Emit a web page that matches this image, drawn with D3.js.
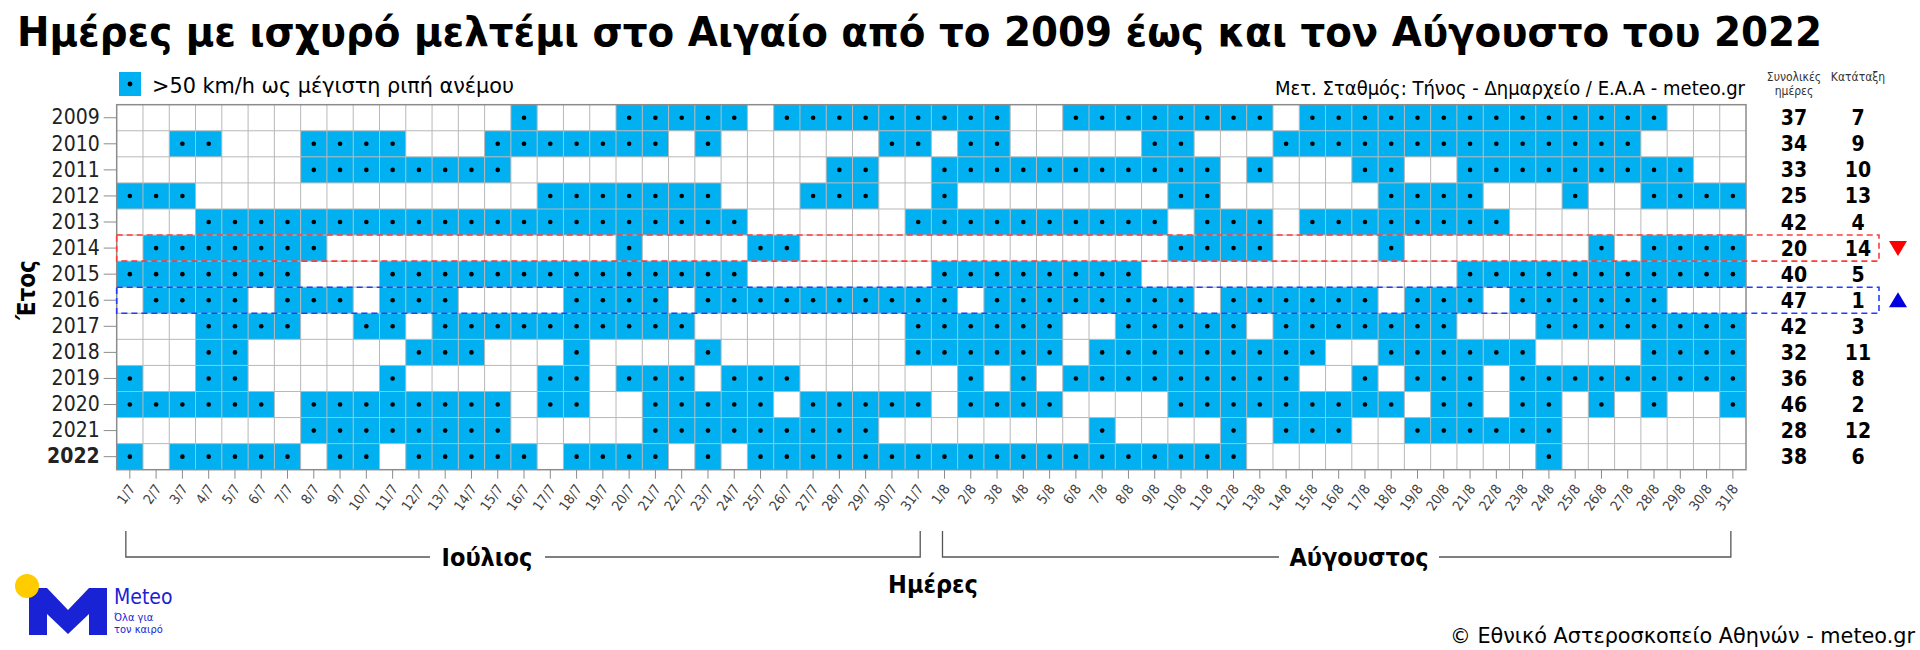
<!DOCTYPE html>
<html><head><meta charset="utf-8">
<script src="https://cdn.jsdelivr.net/npm/d3@7"></script>
<style>
body{margin:0;background:#fff}
svg{display:block}
text{font-family:"DejaVu Sans Condensed","DejaVu Sans",sans-serif}
</style>
</head><body>
<svg id="c" width="1920" height="650"></svg>
<script>
// ---------------- DATA ----------------
const years = [2009,2010,2011,2012,2013,2014,2015,2016,2017,2018,2019,2020,2021,2022];
const julyLabels = ["1/7","2/7","3/7","4/7","5/7","6/7","7/7","8/7","9/7","10/7","11/7","12/7","13/7","14/7","15/7","16/7","17/7","18/7","19/7","20/7","21/7","22/7","23/7","24/7","25/7","26/7","27/7","28/7","29/7","30/7","31/7"];
const augustLabels = ["1/8","2/8","3/8","4/8","5/8","6/8","7/8","8/8","9/8","10/8","11/8","12/8","13/8","14/8","15/8","16/8","17/8","18/8","19/8","20/8","21/8","22/8","23/8","24/8","25/8","26/8","27/8","28/8","29/8","30/8","31/8"];
// 1 = day with gust > 50 km/h (July 1..31 | August 1..31)
const meltemiDays = [
  "0000000000000001000111110111111|1110011111111011111111111111000", // 2009
  "0011000111100011111110100000011|0110000011000111111111111110000", // 2010
  "0000000111111110000000000001100|1111111111101000110011111111100", // 2011
  "1110000000000000111111100011100|1000000001100000011110001001111", // 2012
  "0001111111111111111111110000001|1111111110111011111111000000000", // 2013
  "0111111100000000000100001100000|0000000001111000010000000101111", // 2014
  "1111111000111111111111110000000|1111111100000000000011111111111", // 2015
  "0111101110111000011110111111111|1011111111011111101110111111000", // 2016
  "0001111001101111111111000000001|1111100111110111111100011111111", // 2017
  "0001100000011100010000100000001|1111101111111110011111100001111", // 2018
  "1001100000100000110111011100000|0101011111111100101110111111111", // 2019
  "1111110111111110110011111011111|0111100001111111110110110101001", // 2020
  "0000000111111110000011111111100|0000001000010111001111110000000", // 2021
  "1011111011011111011110101111111|1111111111110000000000010000000"  // 2022
];
const totals = [37,34,33,25,42,20,40,47,42,32,36,46,28,38];
const ranks  = [7,9,10,13,4,14,5,1,3,11,8,2,12,6];

// ---------------- LAYOUT ----------------
const svg = d3.select("#c");
const gridLeft = 116.7, gridRight = 1746, gridTop = 104.7, gridBottom = 469.7;
const BLUE = "#00b0f0";
const dayLabels = julyLabels.concat(augustLabels);

const x = d3.scaleBand().domain(dayLabels).range([gridLeft, gridRight]).padding(0);
const y = d3.scaleBand().domain(years).range([gridTop, gridBottom]).padding(0);
const bw = x.bandwidth(), bh = y.bandwidth();

const cells = [];
years.forEach((yr, i) => {
  const s = meltemiDays[i].replace("|", "");
  dayLabels.forEach((d, j) => { if (s[j] === "1") cells.push({yr, d}); });
});

// Title
svg.append("text").attr("x", 17).attr("y", 46)
  .attr("font-size", 41).attr("font-weight", "bold").attr("fill", "#000")
  .attr("textLength", 1805).attr("lengthAdjust", "spacingAndGlyphs")
  .text("Ημέρες με ισχυρό μελτέμι στο Αιγαίο από το 2009 έως και τον Αύγουστο του 2022");

// Legend
svg.append("rect").attr("x", 119).attr("y", 72).attr("width", 22).attr("height", 24).attr("fill", BLUE);
svg.append("circle").attr("cx", 130).attr("cy", 84).attr("r", 2.4).attr("fill", "#000");
svg.append("text").attr("x", 152).attr("y", 93).attr("font-size", 21).attr("fill", "#000")
  .attr("textLength", 362).attr("lengthAdjust", "spacingAndGlyphs")
  .text(">50 km/h ως μέγιστη ριπή ανέμου");

// Station
svg.append("text").attr("x", 1745).attr("y", 95).attr("font-size", 19).attr("fill", "#000")
  .attr("text-anchor", "end").attr("textLength", 470).attr("lengthAdjust", "spacingAndGlyphs")
  .text("Μετ. Σταθμός: Τήνος - Δημαρχείο / Ε.Α.Α - meteo.gr");

// Right headers
const colTot = 1794, colRank = 1858;
svg.append("text").attr("x", colTot).attr("y", 81).attr("font-size", 12).attr("text-anchor", "middle").attr("fill", "#333").text("Συνολικές");
svg.append("text").attr("x", colTot).attr("y", 95).attr("font-size", 12).attr("text-anchor", "middle").attr("fill", "#333").text("ημέρες");
svg.append("text").attr("x", colRank).attr("y", 81).attr("font-size", 12).attr("text-anchor", "middle").attr("fill", "#333").text("Κατάταξη");

// Cells
svg.append("g").selectAll("rect").data(cells).join("rect")
  .attr("x", c => x(c.d)).attr("y", c => y(c.yr))
  .attr("width", bw).attr("height", bh).attr("fill", BLUE);

// Grid lines
const grid = svg.append("g").attr("stroke", "#b8b8b8").attr("stroke-width", 1);
dayLabels.slice(1).forEach(d => grid.append("line").attr("x1", x(d)).attr("x2", x(d)).attr("y1", gridTop).attr("y2", gridBottom));
years.slice(1).forEach(yr => grid.append("line").attr("x1", gridLeft).attr("x2", gridRight).attr("y1", y(yr)).attr("y2", y(yr)));

// Dots
svg.append("g").selectAll("circle").data(cells).join("circle")
  .attr("cx", c => x(c.d) + bw / 2).attr("cy", c => y(c.yr) + bh / 2)
  .attr("r", 2.3).attr("fill", "#000");

// Border
svg.append("rect").attr("x", gridLeft).attr("y", gridTop).attr("width", gridRight - gridLeft).attr("height", gridBottom - gridTop)
  .attr("fill", "none").attr("stroke", "#8c8c8c").attr("stroke-width", 1.5);

// Axes
const gx = svg.append("g").attr("transform", `translate(0,${gridBottom})`)
  .call(d3.axisBottom(x).tickSize(9).tickSizeOuter(0));
gx.select(".domain").remove();
gx.selectAll(".tick line").attr("stroke", "#8c8c8c");
gx.selectAll(".tick text").attr("x", 0).attr("y", 0).attr("dy", 0)
  .attr("font-size", 14).attr("fill", "#404040").attr("text-anchor", "end")
  .attr("font-family", "'DejaVu Sans Condensed','DejaVu Sans',sans-serif")
  .attr("transform", "translate(6,19) rotate(-55)");

const gy = svg.append("g").attr("transform", `translate(${gridLeft},0)`)
  .call(d3.axisLeft(y).tickSize(13).tickSizeOuter(0).tickFormat(d3.format("d")));
gy.select(".domain").remove();
gy.selectAll(".tick line").attr("stroke", "#8c8c8c");
gy.selectAll(".tick text").attr("x", -17).attr("font-size", 21).attr("fill", "#222")
  .attr("font-family", "'DejaVu Sans Condensed','DejaVu Sans',sans-serif")
  .attr("font-weight", d => d === 2022 ? "bold" : "normal");

// Totals and ranks
years.forEach((yr, i) => {
  const cy = y(yr) + bh / 2 + 7.5;
  svg.append("text").attr("x", colTot).attr("y", cy).attr("font-size", 21).attr("font-weight", "bold")
    .attr("text-anchor", "middle").attr("fill", "#000").text(totals[i]);
  svg.append("text").attr("x", colRank).attr("y", cy).attr("font-size", 21).attr("font-weight", "bold")
    .attr("text-anchor", "middle").attr("fill", "#000").text(ranks[i]);
});

// Highlight rows
const hi = [{yr: 2014, color: "#ff3b3b", down: true}, {yr: 2016, color: "#1f3cff", down: false}];
hi.forEach(h => {
  svg.append("rect").attr("x", gridLeft).attr("y", y(h.yr)).attr("width", 1879 - gridLeft).attr("height", bh)
    .attr("fill", "none").attr("stroke", h.color).attr("stroke-width", 1.6).attr("stroke-dasharray", "6,4");
  const cx = 1898, cy = y(h.yr) + bh / 2;
  const pts = h.down ? [[cx - 9, cy - 7], [cx + 9, cy - 7], [cx, cy + 8]] : [[cx - 9, cy + 7], [cx + 9, cy + 7], [cx, cy - 8]];
  svg.append("path").attr("d", "M" + pts.join("L") + "Z").attr("fill", h.down ? "#ff0000" : "#0000e0");
});

// Month brackets
const br = svg.append("g").attr("stroke", "#555").attr("stroke-width", 1.3).attr("fill", "none");
const yTop = 531, yLine = 557;
function bracket(x1, x2, tx1, tx2) {
  br.append("path").attr("d", `M${x1},${yTop}V${yLine}H${tx1}M${tx2},${yLine}H${x2}V${yTop}`);
}
const jx1 = x("1/7") + bw / 2 - 4, jx2 = x("31/7") + bw / 2 + 2;
const ax1 = x("1/8") + bw / 2 - 2, ax2 = x("31/8") + bw / 2 - 2;
bracket(jx1, jx2, 430, 545);
bracket(ax1, ax2, 1279, 1439);
svg.append("text").attr("x", 487).attr("y", 566).attr("font-size", 25).attr("font-weight", "bold")
  .attr("text-anchor", "middle").attr("fill", "#000").text("Ιούλιος");
svg.append("text").attr("x", 1359).attr("y", 566).attr("font-size", 25).attr("font-weight", "bold")
  .attr("text-anchor", "middle").attr("fill", "#000").text("Αύγουστος");

// Axis titles
svg.append("text").attr("x", 933).attr("y", 593).attr("font-size", 25).attr("font-weight", "bold")
  .attr("text-anchor", "middle").attr("fill", "#000").text("Ημέρες");
svg.append("text").attr("transform", "translate(35,290) rotate(-90)").attr("font-size", 24).attr("font-weight", "bold")
  .attr("text-anchor", "middle").attr("fill", "#000").text("Έτος");

// Copyright
svg.append("text").attr("x", 1915).attr("y", 643).attr("font-size", 22).attr("fill", "#000")
  .attr("text-anchor", "end").attr("textLength", 465).attr("lengthAdjust", "spacingAndGlyphs")
  .text("© Εθνικό Αστεροσκοπείο Αθηνών - meteo.gr");

// Logo
const logo = svg.append("g");
logo.append("path").attr("fill", "#1a22d6")
  .attr("d", "M29,635L29,588L47,588L68,610L89,588L107,588L107,635L89,635L89,614L68,634L47,614L47,635Z");
logo.append("circle").attr("cx", 27).attr("cy", 586).attr("r", 12).attr("fill", "#ffcc00");
logo.append("text").attr("x", 114).attr("y", 604).attr("font-size", 21).attr("fill", "#1a22d6")
  .attr("font-family", "'Open Sans',sans-serif").text("Meteo");
logo.append("text").attr("x", 114).attr("y", 621).attr("font-size", 11).attr("fill", "#1a22d6")
  .attr("font-family", "'Open Sans',sans-serif").text("Όλα για");
logo.append("text").attr("x", 114).attr("y", 633).attr("font-size", 11).attr("fill", "#1a22d6")
  .attr("font-family", "'Open Sans',sans-serif").text("τον καιρό");
</script>
</body></html>
